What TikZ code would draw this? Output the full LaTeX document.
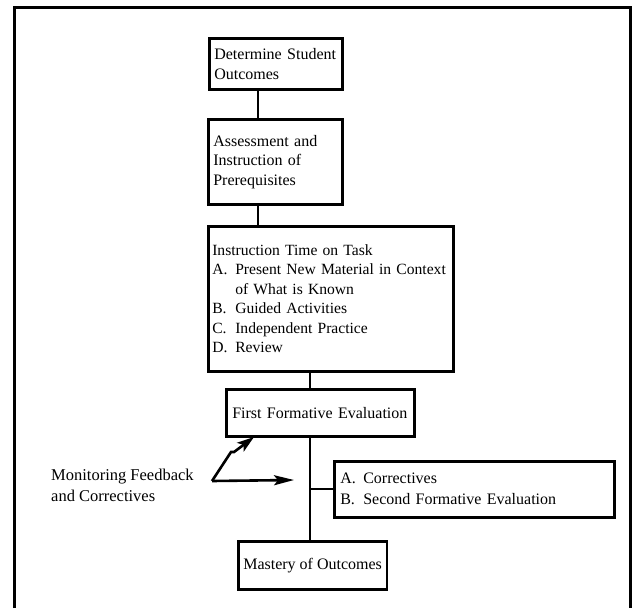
\documentclass[tikz,border=0pt]{standalone}
\usepackage{fontspec}
\setmainfont{Liberation Serif}
\usepackage{tikz}
\usetikzlibrary{arrows.meta}

\newcommand{\itemtag}[1]{\makebox[23pt][l]{#1}}
\newcommand{\itemgap}{\hspace*{23pt}}

\begin{document}
\begin{tikzpicture}[x=1pt, y=-1pt,
    every node/.style={font=\fontsize{16}{19.5}\selectfont},
    stagebox/.style={draw, line width=2.6pt, anchor=north west, align=left,
                     inner xsep=5pt, inner ysep=0pt},
    link/.style={line width=2.2pt}]
    \useasboundingbox (0,0) rectangle (634,608);

    % --- Outer frame (open at the bottom) ---
    \draw[line width=3pt] (14,608) -- (14,7) -- (630,7) -- (630,608);

    % --- Stages ---
    \node[stagebox, text width=123pt, minimum height=51pt] (det) at (208,37)
        {Determine Student\\Outcomes};
    \node[stagebox, text width=124pt, minimum height=85pt] (pre) at (207,118)
        {Assessment and\\Instruction of\\Prerequisites};
    \node[stagebox, text width=237pt, minimum height=145pt, inner xsep=4pt,
          font=\fontsize{15.6}{19.5}\selectfont] (tot) at (207,225)
        {Instruction Time on Task\\
         \mbox{\itemtag{A.}Present New Material in Context}\\
         \itemgap of What is Known\\
         \itemtag{B.}Guided Activities\\
         \itemtag{C.}Independent Practice\\
         \itemtag{D.}Review};
    \node[stagebox, text width=176pt, minimum height=47pt, inner xsep=6pt] (ffe) at (225,388)
        {First Formative Evaluation};
    \node[stagebox, text width=268pt, minimum height=56pt, inner xsep=6pt,
          font=\fontsize{16}{21}\selectfont] (cor) at (333,460)
        {\itemtag{A.}Correctives\\\itemtag{B.}Second Formative Evaluation};
    \node[stagebox, minimum width=146pt, minimum height=48pt, align=center] (mas) at (237,540)
        {Mastery of Outcomes};

    % --- Connectors ---
    \coordinate (upper) at (258,0);
    \coordinate (spine) at (310,0);
    \draw[link] (upper |- det.south) -- (upper |- pre.north);
    \draw[link] (upper |- pre.south) -- (upper |- tot.north);
    \draw[link] (spine |- tot.south) -- (spine |- ffe.north);
    \draw[link] (spine |- ffe.south) -- (spine |- mas.north);
    \draw[link] (spine |- cor.west) -- (cor.west);

    % --- Monitoring feedback ---
    \node[anchor=north west, align=left, inner sep=0pt,
          font=\fontsize{16.5}{21}\selectfont] (mon) at (51,469)
        {Monitoring Feedback\\and Correctives};
    \coordinate (bend) at (212,481);
    \coordinate (kink) at (231,452);
    \coordinate (upTip) at (254,437);
    \coordinate (sideTip) at (294,480);
    \draw[line width=2.6pt, line join=miter, -{Stealth[length=17pt, width=11pt, inset=4pt]}]
        (bend) -- (kink) -- ++(3,0) -- (upTip);
    \draw[line width=2.6pt, -{Stealth[length=20pt, width=10pt, inset=4pt]}]
        (bend) -- (sideTip);
\end{tikzpicture}
\end{document}
